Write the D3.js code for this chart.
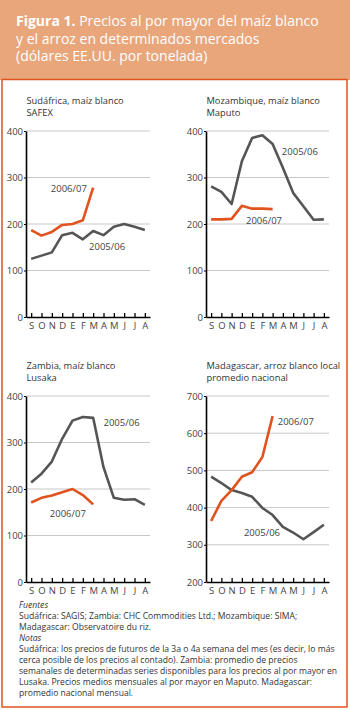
<!DOCTYPE html>
<html>
<head>
<meta charset="utf-8">
<script src="https://cdn.jsdelivr.net/npm/d3@7"></script>
<style>
  body { margin: 0; background: #fff; }
  svg { display: block; font-family: "Open Sans", sans-serif; }
</style>
</head>
<body>
<svg width="350" height="710"></svg>
<script>
const months = ["S", "O", "N", "D", "E", "F", "M", "A", "M", "J", "J", "A"];

const safex0506 = [125, 132, 139, 176, 181, 167, 185, 176, 194, 200, 194, 187];
const safex0607 = [187, 175, 183, 198, 200, 208, 278];
const maputo0506 = [281, 269, 243, 335, 385, 391, 372, 321, 267, 238, 209, 210];
const maputo0607 = [210, 210, 211, 239, 233, 233, 232];
const lusaka0506 = [214, 233, 259, 308, 347, 355, 353, 247, 181, 177, 178, 166];
const lusaka0607 = [171, 181, 186, 193, 200, 187, 167];
const madag0506 = [483, 466, 447, 439, 429, 399, 380, 348, 333, 315, 334, 354];
const madag0607 = [364, 418, 447, 483, 495, 536, 646];

const ticksLow = [0, 100, 200, 300, 400];
const ticksRice = [200, 300, 400, 500, 600, 700];

const orange = "#e0531e";
const grey = "#555555";

const panels = [
  { title: ["Sudáfrica, maíz blanco", "SAFEX"], x0: 26, x1: 150, top: 131, bottom: 317,
    ticks: ticksLow, a: safex0506, b: safex0607,
    labA: [5.6, 145], labB: [1.9, 268] },
  { title: ["Mozambique, maíz blanco", "Maputo"], x0: 206, x1: 329, top: 131, bottom: 317,
    ticks: ticksLow, a: maputo0506, b: maputo0607,
    labA: [6.9, 349], labB: [3.4, 201] },
  { title: ["Zambia, maíz blanco", "Lusaka"], x0: 26, x1: 150, top: 396, bottom: 582,
    ticks: ticksLow, a: lusaka0506, b: lusaka0607,
    labA: [7.0, 336], labB: [1.8, 140] },
  { title: ["Madagascar, arroz blanco local", "promedio nacional"], x0: 206, x1: 329, top: 396, bottom: 582,
    ticks: ticksRice, a: madag0506, b: madag0607,
    labA: [3.2, 324], labB: [6.5, 623] }
];

const svg = d3.select("svg");

// header
svg.append("rect")
  .attr("x", 0).attr("y", 0).attr("width", 350).attr("height", 80)
  .attr("fill", "#eaa67b");

const title = svg.append("g").attr("fill", "#fff").attr("font-size", 14);
const t1 = title.append("text").attr("x", 16).attr("y", 26);
t1.append("tspan").attr("font-weight", "bold").text("Figura 1.");
t1.append("tspan").text(" Precios al por mayor del maíz blanco");
title.append("text").attr("x", 16).attr("y", 43.5).text("y el arroz en determinados mercados");
title.append("text").attr("x", 16).attr("y", 61).text("(dólares EE.UU. por tonelada)");

// frame
svg.append("rect")
  .attr("x", 2).attr("y", 79.5).attr("width", 345).attr("height", 627.5)
  .attr("fill", "none").attr("stroke", orange).attr("stroke-width", 1.5);

panels.forEach(p => {
  const g = svg.append("g");

  const x = d3.scalePoint()
    .domain(d3.range(months.length))
    .range([p.x0, p.x1])
    .padding(0.5);
  const xl = d3.scaleLinear()
    .domain([0, months.length - 1])
    .range([x(0), x(months.length - 1)]);
  const y = d3.scaleLinear()
    .domain(d3.extent(p.ticks))
    .range([p.bottom, p.top]);

  // title
  p.title.forEach((t, i) => {
    g.append("text")
      .attr("x", p.x0 + 0.5)
      .attr("y", p.top - 27 + i * 12)
      .attr("font-size", 9.3)
      .attr("fill", "#333")
      .text(t);
  });

  // grid
  g.append("g")
    .selectAll("line")
    .data(p.ticks.slice(1))
    .join("line")
    .attr("x1", p.x0).attr("x2", p.x1)
    .attr("y1", d => y(d)).attr("y2", d => y(d))
    .attr("stroke", "#c8c8c8").attr("stroke-width", 1);

  // y axis
  const ya = g.append("g")
    .attr("transform", `translate(${p.x0},0)`)
    .call(d3.axisLeft(y).tickValues(p.ticks).tickSize(2).tickSizeOuter(0).tickPadding(1));
  ya.select(".domain").attr("stroke", "#000").attr("stroke-width", 1.6);
  ya.selectAll(".tick line").attr("stroke", "#000");
  ya.selectAll("text").attr("font-size", 9.5).attr("fill", "#444")
    .attr("font-family", "Open Sans, sans-serif");

  // x axis
  const xa = g.append("g")
    .attr("transform", `translate(0,${p.bottom})`)
    .call(d3.axisBottom(x).tickSize(-4).tickSizeOuter(0).tickPadding(5)
      .tickFormat(i => months[i]));
  xa.select(".domain").attr("stroke", "#000").attr("stroke-width", 1.6);
  xa.selectAll(".tick line").attr("stroke", "#000").attr("stroke-width", 1.3);
  xa.selectAll("text").attr("font-size", 9.5).attr("fill", "#444")
    .attr("font-family", "Open Sans, sans-serif");

  const line = d3.line().x((d, i) => x(i)).y(d => y(d));

  g.append("path").datum(p.a)
    .attr("d", line)
    .attr("fill", "none").attr("stroke", grey).attr("stroke-width", 2.6)
    .attr("stroke-linejoin", "round");
  g.append("path").datum(p.b)
    .attr("d", line)
    .attr("fill", "none").attr("stroke", orange).attr("stroke-width", 2.6)
    .attr("stroke-linejoin", "round");

  [[p.labA, "2005/06"], [p.labB, "2006/07"]].forEach(([pos, txt]) => {
    g.append("text")
      .attr("x", xl(pos[0]))
      .attr("y", y(pos[1]))
      .attr("font-size", 9.5)
      .attr("fill", "#444")
      .text(txt);
  });
});

// notes
const notes = [
  ["Fuentes", true],
  ["Sudáfrica: SAGIS; Zambia: CHC Commodities Ltd.; Mozambique: SIMA;", false],
  ["Madagascar: Observatoire du riz.", false],
  ["Notas", true],
  ["Sudáfrica: los precios de futuros de la 3a o 4a semana del mes (es decir, lo más", false],
  ["cerca posible de los precios al contado). Zambia: promedio de precios", false],
  ["semanales de determinadas series disponibles para los precios al por mayor en", false],
  ["Lusaka. Precios medios mensuales al por mayor en Maputo. Madagascar:", false],
  ["promedio nacional mensual.", false]
];

svg.append("g")
  .selectAll("text")
  .data(notes)
  .join("text")
  .attr("x", 19)
  .attr("y", (d, i) => 608 + i * 11)
  .attr("font-size", 8.6)
  .attr("font-style", d => d[1] ? "italic" : "normal")
  .attr("fill", "#333")
  .text(d => d[0]);
</script>
</body>
</html>
